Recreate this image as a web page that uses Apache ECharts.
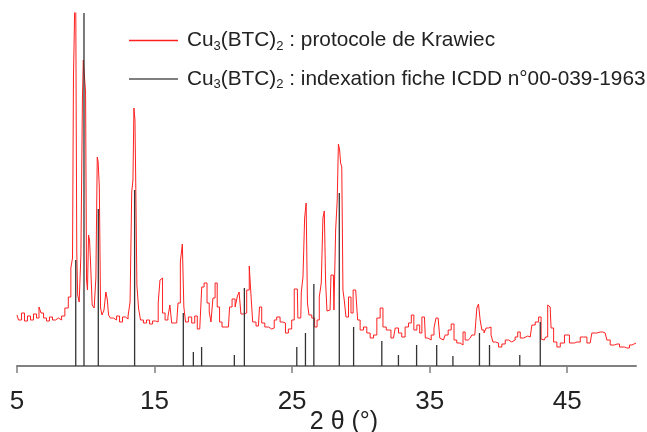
<!DOCTYPE html>
<html>
<head>
<meta charset="utf-8">
<script src="https://cdn.jsdelivr.net/npm/echarts@6/dist/echarts.min.js"></script>
<style>html,body{margin:0;padding:0;background:#fff}#c{width:647px;height:432px}</style>
</head>
<body>
<div id="c"></div>
<script>
// 2θ (degrees) of the measured pattern
var twoTheta = [5.00,5.22,5.44,5.65,5.87,6.09,6.31,6.53,6.67,6.82,7.04,7.25,7.47,7.69,7.91,8.13,8.35,8.61,8.85,8.98,9.09,9.12,9.22,9.29,9.33,9.36,9.46,9.58,9.71,9.80,9.84,9.95,10.02,10.09,10.16,10.24,10.31,10.38,10.55,10.67,10.80,10.87,10.93,11.04,11.11,11.25,11.40,11.52,11.62,11.69,11.89,12.13,12.35,12.56,12.78,13.00,13.15,13.29,13.39,13.47,13.53,13.62,13.65,13.78,13.89,14.07,14.31,14.53,14.75,14.96,15.18,15.35,15.44,15.52,15.64,15.89,16.05,16.18,16.31,16.61,16.80,16.95,17.09,17.17,17.34,17.58,17.82,18.02,18.19,18.38,18.48,18.72,18.91,19.04,19.16,19.33,19.47,19.64,19.81,20.00,20.37,20.54,20.73,20.98,21.07,21.22,21.34,21.58,21.82,21.95,22.07,22.20,22.55,22.71,22.87,23.16,23.40,23.64,23.76,24.00,24.25,24.42,24.61,24.85,25.09,25.22,25.38,25.46,25.63,25.71,25.87,25.95,26.09,26.14,26.31,26.55,26.72,26.91,27.04,27.20,27.28,27.40,27.47,27.60,27.76,27.89,28.00,28.08,28.25,28.31,28.42,28.49,28.56,28.66,28.73,28.85,28.98,29.22,29.34,29.53,29.71,29.82,30.07,30.31,30.55,30.80,31.04,31.28,31.52,31.69,32.00,32.37,32.62,32.85,33.09,33.34,33.58,33.75,33.95,34.19,34.36,34.51,34.62,34.75,34.99,35.23,35.40,35.52,35.71,35.76,36.00,36.25,36.44,36.69,36.85,37.09,37.34,37.51,37.65,37.95,38.18,38.38,38.48,38.62,38.72,38.87,39.04,39.16,39.40,39.52,39.69,39.89,40.13,40.37,40.62,40.85,41.09,41.34,41.46,41.71,41.95,42.31,42.55,42.80,43.04,43.16,43.33,43.52,43.64,43.76,43.89,44.13,44.37,44.62,44.98,45.34,45.71,46.19,46.67,46.91,47.40,47.76,48.00,48.25,48.62,48.98,49.34,49.71,50.00];
// intensity (a.u.) of the measured pattern
var intensity = [51,46,53,45,50,46,52,48,59,53,48,45,49,46,48,46,50,58,69,98,108,289,338,420,420,114,71,64,111,266,306,304,274,86,76,131,126,104,61,58,88,209,204,179,58,51,56,74,66,51,48,46,50,44,49,47,50,64,174,186,258,246,181,81,58,46,43,46,42,45,44,63,86,88,53,46,49,61,43,43,63,104,122,59,44,49,43,50,37,39,79,83,63,54,44,68,83,59,44,39,39,59,67,59,70,74,52,53,76,100,71,44,40,59,43,39,37,38,46,49,44,43,33,37,46,77,77,48,48,74,89,148,163,63,51,48,39,46,69,83,148,155,84,55,56,91,91,56,136,166,222,216,203,199,76,66,49,69,53,76,78,46,36,39,33,28,31,48,58,39,36,28,38,33,29,39,43,51,36,41,33,49,49,28,26,31,38,48,46,28,26,31,36,42,26,23,21,34,26,28,31,29,58,62,46,36,33,38,39,31,24,23,19,22,26,24,26,29,34,28,30,29,41,44,49,27,26,29,61,59,38,24,19,23,31,23,24,29,23,33,34,33,26,21,22,19,18,21,23];
// ICDD 00-039-1963 reference lines
var refTheta = [9.27,9.87,10.91,13.55,17.09,17.82,18.42,20.80,21.53,25.34,25.97,26.58,28.43,29.47,31.52,32.73,34.05,35.51,36.69,38.62,39.35,41.55,43.04];
var refIntensity = [106,420,157,176,53,14,19,11,78,19,33,82,173,39,25,11,21,21,10,33,21,11,44];
var xTicks = [5,15,25,35,45];
var nameMeasured = 'Cu3(BTC)2 : protocole de Krawiec';
var nameRef = 'Cu3(BTC)2 : indexation fiche ICDD n°00-039-1963';
var xTitle = '2 θ (°)';

var measured = twoTheta.map(function(v,i){return [v,intensity[i]];});
var refs = refTheta.map(function(v,i){return [v,refIntensity[i]];});

var chart = echarts.init(document.getElementById('c'));
var font = 'Liberation Sans, Arial, sans-serif';
function richName(name){
  var parts = name.split(' : ');
  return '{n|Cu}{s|3}{n|(BTC)}{s|2}{n| : ' + parts[1] + '}';
}
chart.setOption({
  animation: false,
  backgroundColor: '#fff',
  grid: {left: 17, right: 11, top: 13, bottom: 66, outerBoundsMode: 'none'},
  legend: {
    orient: 'vertical', left: 129, top: 30, padding: 0, itemGap: 16,
    itemWidth: 49, itemHeight: 1.5, icon: 'rect',
    data: [nameMeasured, nameRef],
    formatter: richName,
    textStyle: {
      fontFamily: font, color: '#222', padding: [0,0,0,4],
      rich: {
        n: {fontSize: 20.8, lineHeight: 24, color: '#222', fontFamily: font},
        s: {fontSize: 13, lineHeight: 10, verticalAlign: 'bottom', color: '#222', fontFamily: font}
      }
    }
  },
  xAxis: {
    type: 'value', min: 5, max: 50,
    splitLine: {show: false},
    axisLine: {onZero: false, lineStyle: {color: '#808080', width: 2}},
    axisTick: {customValues: xTicks, length: 7, inside: false, lineStyle: {color: '#808080', width: 1.5}},
    axisLabel: {customValues: xTicks, margin: 23, fontSize: 26, color: '#222', fontFamily: font}
  },
  yAxis: {type: 'value', min: 0, max: 353, show: false, splitLine: {show: false}},
  graphic: [{
    type: 'text',
    style: {text: xTitle, x: 344, y: 422, align: 'center', verticalAlign: 'middle',
            fontSize: 25, fontFamily: font, fill: '#222'}
  }],
  series: [{
    name: nameMeasured, type: 'line', data: measured, showSymbol: false, symbol: 'none',
    step: 'middle', clip: true, color: '#ff2020',
    lineStyle: {color: '#ff2020', width: 1}, z: 2
  }, {
    name: nameRef, type: 'custom', data: refs, clip: true, color: '#555',
    itemStyle: {color: '#555'}, z: 3,
    renderItem: function(params, api){
      var p0 = api.coord([api.value(0), 0]);
      var p1 = api.coord([api.value(0), api.value(1)]);
      return {type: 'line', shape: {x1: p0[0], y1: p0[1], x2: p1[0], y2: p1[1]},
              style: {stroke: '#333', lineWidth: 1.3}};
    }
  }]
});
</script>
</body>
</html>
